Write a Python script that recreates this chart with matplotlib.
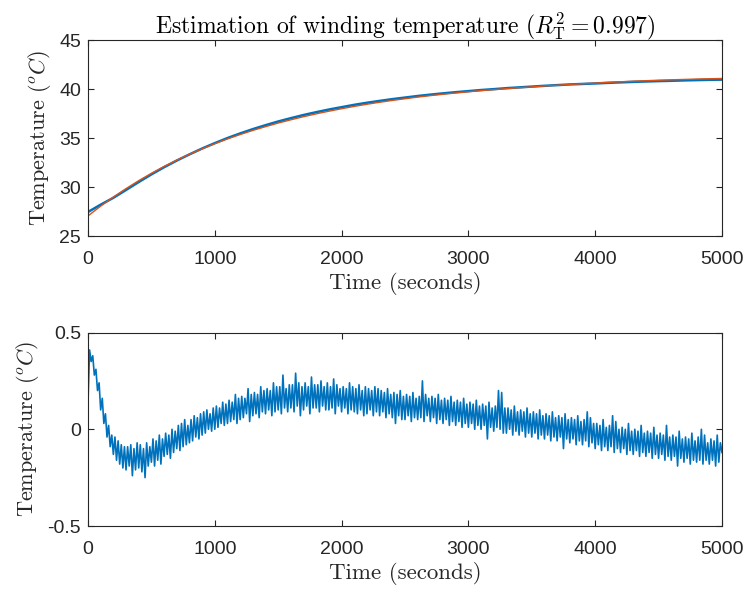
import numpy as np
import matplotlib
matplotlib.use("Agg")
import matplotlib.pyplot as plt

plt.rcParams['mathtext.fontset'] = 'cm'
plt.rcParams['axes.unicode_minus'] = False

# ---------------- data ----------------
dt_top = 100.0  # seconds between samples in the top panel
estimated = [27.05, 28.05, 28.98, 29.84, 30.65, 31.40, 32.10, 32.74, 33.34, 33.90,
             34.42, 34.91, 35.36, 35.78, 36.16, 36.53, 36.86, 37.18, 37.47, 37.74,
             37.99, 38.23, 38.45, 38.65, 38.84, 39.01, 39.18, 39.33, 39.47, 39.60,
             39.72, 39.84, 39.94, 40.04, 40.13, 40.22, 40.31, 40.39, 40.47, 40.54,
             40.61, 40.68, 40.74, 40.80, 40.85, 40.90, 40.94, 40.98, 41.02, 41.05,
             41.08]
measured = [27.45, 28.20, 28.90, 29.70, 30.51, 31.29, 32.02, 32.70, 33.33, 33.93,
            34.48, 35.00, 35.47, 35.91, 36.31, 36.69, 37.03, 37.35, 37.64, 37.91,
            38.15, 38.39, 38.60, 38.79, 38.97, 39.13, 39.29, 39.43, 39.56, 39.68,
            39.79, 39.90, 39.99, 40.09, 40.17, 40.25, 40.33, 40.40, 40.47, 40.52,
            40.57, 40.63, 40.68, 40.73, 40.77, 40.81, 40.84, 40.88, 40.91, 40.94,
            40.96]

dt_res = 12.5  # seconds between samples in the residual panel
residual = [
    0.14, 0.41, 0.35, 0.38, 0.28, 0.31, 0.20, 0.24,
    0.10, 0.16, 0.03, 0.08, -0.04, 0.02, -0.09, -0.03,
    -0.13, -0.04, -0.16, -0.06, -0.18, -0.08, -0.20, -0.09,
    -0.21, -0.09, -0.19, -0.08, -0.24, -0.10, -0.21, -0.07,
    -0.20, -0.08, -0.22, -0.10, -0.25, -0.07, -0.19, -0.09,
    -0.17, -0.05, -0.19, -0.06, -0.16, -0.03, -0.18, -0.05,
    -0.14, -0.02, -0.13, -0.03, -0.15, 0.00, -0.12, -0.01,
    -0.10, 0.02, -0.11, 0.03, -0.09, 0.05, -0.08, 0.02,
    -0.07, 0.05, -0.06, 0.07, -0.04, 0.06, -0.05, 0.08,
    -0.03, 0.09, -0.02, 0.10, 0.00, 0.08, -0.01, 0.11,
    0.00, 0.12, 0.01, 0.11, 0.03, 0.14, 0.02, 0.13,
    0.03, 0.15, 0.04, 0.14, 0.05, 0.18, 0.03, 0.16,
    0.05, 0.17, 0.06, 0.16, 0.08, 0.21, 0.04, 0.18,
    0.07, 0.19, 0.08, 0.18, 0.06, 0.22, 0.09, 0.20,
    0.08, 0.21, 0.10, 0.20, 0.07, 0.24, 0.09, 0.22,
    0.10, 0.22, 0.08, 0.28, 0.11, 0.21, 0.09, 0.23,
    0.11, 0.23, 0.09, 0.29, 0.12, 0.24, 0.07, 0.22,
    0.10, 0.24, 0.12, 0.22, 0.08, 0.27, 0.11, 0.23,
    0.11, 0.23, 0.09, 0.25, 0.12, 0.22, 0.10, 0.24,
    0.10, 0.22, 0.11, 0.26, 0.08, 0.23, 0.12, 0.21,
    0.09, 0.22, 0.11, 0.21, 0.08, 0.24, 0.10, 0.22,
    0.09, 0.21, 0.08, 0.23, 0.10, 0.20, 0.07, 0.22,
    0.08, 0.21, 0.10, 0.20, 0.07, 0.22, 0.09, 0.21,
    0.07, 0.20, 0.09, 0.19, 0.06, 0.21, 0.08, 0.18,
    0.06, 0.19, 0.03, 0.18, 0.07, 0.20, 0.05, 0.17,
    0.05, 0.18, 0.07, 0.17, 0.04, 0.19, 0.06, 0.16,
    0.05, 0.17, 0.06, 0.25, 0.04, 0.18, 0.07, 0.16,
    0.04, 0.17, 0.06, 0.16, 0.03, 0.18, 0.05, 0.15,
    0.03, 0.16, 0.05, 0.15, 0.02, 0.17, 0.04, 0.14,
    0.02, 0.15, 0.04, 0.14, 0.01, 0.16, 0.03, 0.13,
    0.01, 0.14, 0.03, 0.13, 0.00, 0.15, 0.02, 0.12,
    0.00, 0.13, 0.02, 0.12, -0.05, 0.14, 0.01, 0.11,
    -0.01, 0.12, 0.01, 0.20, 0.00, 0.19, -0.02, 0.11,
    -0.02, 0.11, 0.00, 0.10, -0.03, 0.12, -0.01, 0.09,
    -0.03, 0.10, -0.01, 0.09, -0.04, 0.11, -0.02, 0.08,
    -0.04, 0.09, -0.02, 0.08, -0.05, 0.10, -0.03, 0.07,
    -0.05, 0.08, -0.03, 0.07, -0.06, 0.09, -0.04, 0.06,
    -0.06, 0.07, -0.04, 0.06, -0.10, 0.08, -0.05, 0.05,
    -0.07, 0.06, -0.05, 0.05, -0.08, 0.07, -0.06, 0.04,
    -0.08, 0.05, -0.06, 0.09, -0.09, 0.06, -0.07, 0.03,
    -0.10, 0.03, -0.08, 0.02, -0.11, 0.05, -0.09, 0.01,
    -0.11, 0.02, -0.09, 0.07, -0.12, 0.04, -0.10, 0.00,
    -0.12, 0.01, -0.10, 0.00, -0.13, 0.03, -0.11, -0.01,
    -0.13, 0.00, -0.11, -0.01, -0.14, 0.02, -0.12, -0.02,
    -0.14, -0.01, -0.12, -0.02, -0.15, 0.01, -0.13, -0.03,
    -0.15, -0.02, -0.13, -0.03, -0.16, 0.02, -0.14, -0.04,
    -0.16, -0.03, -0.14, -0.04, -0.19, -0.01, -0.15, -0.05,
    -0.17, -0.04, -0.15, -0.05, -0.18, -0.02, -0.16, -0.06,
    -0.17, -0.04, -0.16, 0.00, -0.18, -0.03, -0.16, -0.07,
    -0.18, -0.05, -0.16, -0.06, -0.19, -0.03, -0.17, -0.07,
    -0.12,
]

x_ticks = [0, 1000, 2000, 3000, 4000, 5000]
x_tick_labels = ['0', '1000', '2000', '3000', '4000', '5000']
top_y_ticks = [25, 30, 35, 40, 45]
top_y_tick_labels = ['25', '30', '35', '40', '45']
bot_y_ticks = [-0.5, 0, 0.5]
bot_y_tick_labels = ['-0.5', '0', '0.5']

title = r'Estimation of winding temperature ($R_{\mathrm{T}}^2 = 0.997$)'
xlabel = 'Time (seconds)'
ylabel = r'Temperature ($^oC$)'

# ---------------- plotting ----------------
t_top = np.arange(len(estimated)) * dt_top
t_res = np.arange(len(residual)) * dt_res

BLUE = '#0072BD'
ORANGE = '#D95319'
AX_COL = '#262626'
TICK_FONT = dict(family='Liberation Sans', size=14, color='#333333')

fig = plt.figure(figsize=(7.47, 5.96), dpi=100)
ax1 = fig.add_axes([0.1178, 0.6040, 0.8487, 0.3288])
ax2 = fig.add_axes([0.1178, 0.1174, 0.8487, 0.3247])

ax1.plot(t_top, measured, color=BLUE, lw=1.8)
ax1.plot(t_top, estimated, color=ORANGE, lw=1.0)
ax2.plot(t_res, residual, color=BLUE, lw=1.2)

for ax, yt, ytl, ylim in ((ax1, top_y_ticks, top_y_tick_labels, (25, 45)),
                          (ax2, bot_y_ticks, bot_y_tick_labels, (-0.5, 0.5))):
    ax.set_xlim(0, 5000)
    ax.set_ylim(*ylim)
    ax.set_xticks(x_ticks)
    ax.set_xticklabels(x_tick_labels, **TICK_FONT)
    ax.set_yticks(yt)
    ax.set_yticklabels(ytl, **TICK_FONT)
    ax.tick_params(direction='in', length=4, width=0.8, colors=AX_COL,
                   top=True, right=True)
    ax.tick_params(axis='x', pad=11)
    ax.tick_params(axis='y', pad=5)
    for s in ax.spines.values():
        s.set_color(AX_COL)
        s.set_linewidth(0.8)
    ax.set_xlabel(xlabel, labelpad=3, family='cmr10', size=16.5, color='#262626')
    ax.set_ylabel(ylabel, labelpad=4.5, family='cmr10', size=16, color='#262626')

ax1.set_title(title, family='cmr10', size=17, color='black', pad=5)

fig.savefig('out.png', dpi=100)
